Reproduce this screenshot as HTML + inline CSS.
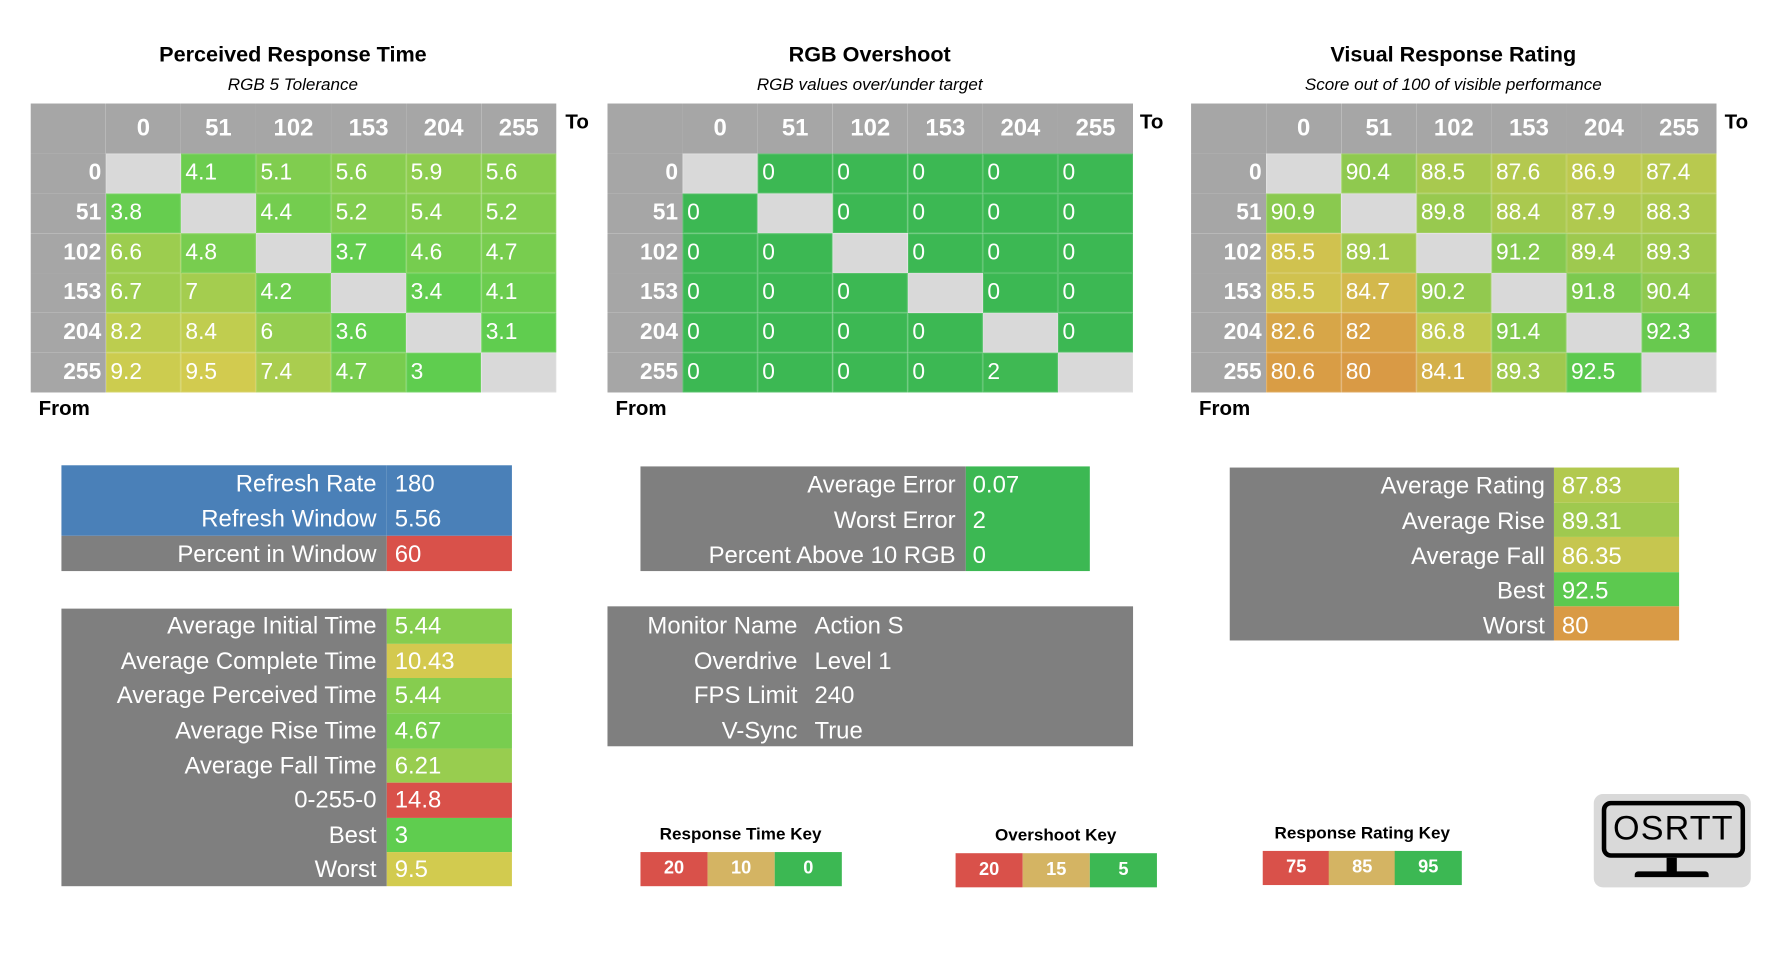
<!DOCTYPE html>
<html><head><meta charset="utf-8"><style>
html,body{margin:0;padding:0;background:#fff;width:1784px;height:962px;overflow:hidden}
#w{position:absolute;left:0;top:0;width:1560px;height:841px;transform:scale(1.1376);transform-origin:0 0;font-family:"Liberation Sans",sans-serif}
.a{position:absolute}
.tt{position:absolute;text-align:center;font-weight:bold;font-size:19px;color:#000}
.st{position:absolute;text-align:center;font-style:italic;font-size:15px;color:#000}
table{position:absolute;border-collapse:collapse;table-layout:fixed;border:0}
td{padding:0;height:35px;color:#fff;font-size:20px;white-space:nowrap;overflow:hidden;border:0}
.h td{height:44px;background:#a6a6a6;font-weight:bold;font-size:21px;text-align:center}
td.l{background:#a6a6a6;font-weight:bold;text-align:right;padding-right:4px;width:62px}
td.c{width:62px;padding-left:4px;box-shadow:inset 0 0 0 1px rgba(255,255,255,0.12)}
td.d{background:#d9d9d9}
.lab{position:absolute;font-weight:bold;font-size:18px;color:#000}
.box div{position:absolute;color:#fff;font-size:21px;line-height:31px;white-space:nowrap}
.key{position:absolute;font-weight:bold;font-size:15px;text-align:center;color:#000}
.kb{position:absolute;color:#fff;font-weight:bold;font-size:16px;text-align:center;line-height:30px;width:59px;height:30px}
</style></head><body><div id="w">

<div class="tt" style="left:27px;width:461px;top:38px">Perceived Response Time</div>
<div class="st" style="left:27px;width:461px;top:66px">RGB 5 Tolerance</div>
<div class="tt" style="left:534px;width:461px;top:38px">RGB Overshoot</div>
<div class="st" style="left:534px;width:461px;top:66px">RGB values over/under target</div>
<div class="tt" style="left:1047px;width:461px;top:38px">Visual Response Rating</div>
<div class="st" style="left:1047px;width:461px;top:66px">Score out of 100 of visible performance</div>

<table style="left:27px;top:91px;width:462px">
<tr class="h"><td style="width:66px"></td><td>0</td><td>51</td><td>102</td><td>153</td><td>204</td><td>255</td></tr>
<tr><td class="l">0</td><td class="c d"></td><td class="c" style="background:#6ccd4f">4.1</td><td class="c" style="background:#80cd4f">5.1</td><td class="c" style="background:#88cd4f">5.6</td><td class="c" style="background:#8ecd4f">5.9</td><td class="c" style="background:#88cd4f">5.6</td></tr>
<tr><td class="l">51</td><td class="c" style="background:#66cd4f">3.8</td><td class="c d"></td><td class="c" style="background:#74cd4f">4.4</td><td class="c" style="background:#82cd4f">5.2</td><td class="c" style="background:#86cd4f">5.4</td><td class="c" style="background:#82cd4f">5.2</td></tr>
<tr><td class="l">102</td><td class="c" style="background:#9ccd4f">6.6</td><td class="c" style="background:#78cd4f">4.8</td><td class="c d"></td><td class="c" style="background:#64cd4f">3.7</td><td class="c" style="background:#76cd4f">4.6</td><td class="c" style="background:#78cd4f">4.7</td></tr>
<tr><td class="l">153</td><td class="c" style="background:#9ecd4f">6.7</td><td class="c" style="background:#a4cd4f">7</td><td class="c" style="background:#70cd4f">4.2</td><td class="c d"></td><td class="c" style="background:#62cd4f">3.4</td><td class="c" style="background:#6ccd4f">4.1</td></tr>
<tr><td class="l">204</td><td class="c" style="background:#bccd4f">8.2</td><td class="c" style="background:#c0cd4f">8.4</td><td class="c" style="background:#94cd4f">6</td><td class="c" style="background:#63cd4f">3.6</td><td class="c d"></td><td class="c" style="background:#60cd4f">3.1</td></tr>
<tr><td class="l">255</td><td class="c" style="background:#cccc4f">9.2</td><td class="c" style="background:#d2cb4f">9.5</td><td class="c" style="background:#aacd4f">7.4</td><td class="c" style="background:#78cd4f">4.7</td><td class="c" style="background:#5fcd4f">3</td><td class="c d"></td></tr>
</table>
<div class="lab" style="left:497px;top:97px">To</div>
<div class="lab" style="left:34px;top:349px">From</div>

<table style="left:534px;top:91px;width:462px">
<tr class="h"><td style="width:66px"></td><td>0</td><td>51</td><td>102</td><td>153</td><td>204</td><td>255</td></tr>
<tr><td class="l">0</td><td class="c d"></td><td class="c" style="background:#3cb853">0</td><td class="c" style="background:#3cb853">0</td><td class="c" style="background:#3cb853">0</td><td class="c" style="background:#3cb853">0</td><td class="c" style="background:#3cb853">0</td></tr>
<tr><td class="l">51</td><td class="c" style="background:#3cb853">0</td><td class="c d"></td><td class="c" style="background:#3cb853">0</td><td class="c" style="background:#3cb853">0</td><td class="c" style="background:#3cb853">0</td><td class="c" style="background:#3cb853">0</td></tr>
<tr><td class="l">102</td><td class="c" style="background:#3cb853">0</td><td class="c" style="background:#3cb853">0</td><td class="c d"></td><td class="c" style="background:#3cb853">0</td><td class="c" style="background:#3cb853">0</td><td class="c" style="background:#3cb853">0</td></tr>
<tr><td class="l">153</td><td class="c" style="background:#3cb853">0</td><td class="c" style="background:#3cb853">0</td><td class="c" style="background:#3cb853">0</td><td class="c d"></td><td class="c" style="background:#3cb853">0</td><td class="c" style="background:#3cb853">0</td></tr>
<tr><td class="l">204</td><td class="c" style="background:#3cb853">0</td><td class="c" style="background:#3cb853">0</td><td class="c" style="background:#3cb853">0</td><td class="c" style="background:#3cb853">0</td><td class="c d"></td><td class="c" style="background:#3cb853">0</td></tr>
<tr><td class="l">255</td><td class="c" style="background:#3cb853">0</td><td class="c" style="background:#3cb853">0</td><td class="c" style="background:#3cb853">0</td><td class="c" style="background:#3cb853">0</td><td class="c" style="background:#3fb953">2</td><td class="c d"></td></tr>
</table>
<div class="lab" style="left:1002px;top:97px">To</div>
<div class="lab" style="left:541px;top:349px">From</div>

<table style="left:1047px;top:91px;width:462px">
<tr class="h"><td style="width:66px"></td><td>0</td><td>51</td><td>102</td><td>153</td><td>204</td><td>255</td></tr>
<tr><td class="l">0</td><td class="c d"></td><td class="c" style="background:#8fc94f">90.4</td><td class="c" style="background:#a8c94f">88.5</td><td class="c" style="background:#b4c94f">87.6</td><td class="c" style="background:#bec94f">86.9</td><td class="c" style="background:#b8c94f">87.4</td></tr>
<tr><td class="l">51</td><td class="c" style="background:#8ac94f">90.9</td><td class="c d"></td><td class="c" style="background:#98c94f">89.8</td><td class="c" style="background:#aac94f">88.4</td><td class="c" style="background:#b0c94f">87.9</td><td class="c" style="background:#acc94f">88.3</td></tr>
<tr><td class="l">102</td><td class="c" style="background:#d0c24f">85.5</td><td class="c" style="background:#a2c94f">89.1</td><td class="c d"></td><td class="c" style="background:#86c94f">91.2</td><td class="c" style="background:#9ec94f">89.4</td><td class="c" style="background:#a0c94f">89.3</td></tr>
<tr><td class="l">153</td><td class="c" style="background:#d0c24f">85.5</td><td class="c" style="background:#d3b84c">84.7</td><td class="c" style="background:#92c94f">90.2</td><td class="c d"></td><td class="c" style="background:#7cc94f">91.8</td><td class="c" style="background:#8fc94f">90.4</td></tr>
<tr><td class="l">204</td><td class="c" style="background:#d7a648">82.6</td><td class="c" style="background:#d8a247">82</td><td class="c" style="background:#c0c94f">86.8</td><td class="c" style="background:#82c94f">91.4</td><td class="c d"></td><td class="c" style="background:#68c94f">92.3</td></tr>
<tr><td class="l">255</td><td class="c" style="background:#d99d45">80.6</td><td class="c" style="background:#d99a45">80</td><td class="c" style="background:#d4b04a">84.1</td><td class="c" style="background:#a0c94f">89.3</td><td class="c" style="background:#5cc94f">92.5</td><td class="c d"></td></tr>
</table>
<div class="lab" style="left:1516px;top:97px">To</div>
<div class="lab" style="left:1054px;top:349px">From</div>

<!-- box1 -->
<div class="box">
<div style="left:54px;top:409px;width:286px;height:62px;background:#4a80b8"></div>
<div style="left:54px;top:471px;width:286px;height:31px;background:#7f7f7f"></div>
<div style="left:340px;top:409px;width:110px;height:62px;background:#4a80b8"></div>
<div style="left:340px;top:471px;width:110px;height:31px;background:#d9514a"></div>
<div style="left:54px;top:410px;width:277px;text-align:right">Refresh Rate</div>
<div style="left:54px;top:441px;width:277px;text-align:right">Refresh Window</div>
<div style="left:54px;top:472px;width:277px;text-align:right">Percent in Window</div>
<div style="left:347px;top:410px">180</div>
<div style="left:347px;top:441px">5.56</div>
<div style="left:347px;top:472px">60</div>
</div>

<!-- box2 -->
<div class="box">
<div style="left:54px;top:535px;width:286px;height:244px;background:#7f7f7f"></div>
<div style="left:340px;top:535px;width:110px;height:31px;background:#86cd4f"></div>
<div style="left:340px;top:566px;width:110px;height:30px;background:#d4c94f"></div>
<div style="left:340px;top:596px;width:110px;height:31px;background:#86cd4f"></div>
<div style="left:340px;top:627px;width:110px;height:31px;background:#78cd4f"></div>
<div style="left:340px;top:658px;width:110px;height:30px;background:#98cd4f"></div>
<div style="left:340px;top:688px;width:110px;height:31px;background:#d9514a"></div>
<div style="left:340px;top:719px;width:110px;height:30px;background:#5fcd4f"></div>
<div style="left:340px;top:749px;width:110px;height:30px;background:#d2cb4f"></div>
<div style="left:54px;top:535px;width:277px;text-align:right">Average Initial Time</div>
<div style="left:54px;top:566px;width:277px;text-align:right">Average Complete Time</div>
<div style="left:54px;top:596px;width:277px;text-align:right">Average Perceived Time</div>
<div style="left:54px;top:627px;width:277px;text-align:right">Average Rise Time</div>
<div style="left:54px;top:658px;width:277px;text-align:right">Average Fall Time</div>
<div style="left:54px;top:688px;width:277px;text-align:right">0-255-0</div>
<div style="left:54px;top:719px;width:277px;text-align:right">Best</div>
<div style="left:54px;top:749px;width:277px;text-align:right">Worst</div>
<div style="left:347px;top:535px">5.44</div>
<div style="left:347px;top:566px">10.43</div>
<div style="left:347px;top:596px">5.44</div>
<div style="left:347px;top:627px">4.67</div>
<div style="left:347px;top:658px">6.21</div>
<div style="left:347px;top:688px">14.8</div>
<div style="left:347px;top:719px">3</div>
<div style="left:347px;top:749px">9.5</div>
</div>

<!-- box3 -->
<div class="box">
<div style="left:563px;top:410px;width:286px;height:92px;background:#7f7f7f"></div>
<div style="left:849px;top:410px;width:109px;height:92px;background:#3cb853"></div>
<div style="left:563px;top:411px;width:277px;text-align:right">Average Error</div>
<div style="left:563px;top:442px;width:277px;text-align:right">Worst Error</div>
<div style="left:563px;top:473px;width:277px;text-align:right">Percent Above 10 RGB</div>
<div style="left:855px;top:411px">0.07</div>
<div style="left:855px;top:442px">2</div>
<div style="left:855px;top:473px">0</div>
</div>

<!-- box4 -->
<div class="box">
<div style="left:534px;top:533px;width:462px;height:123px;background:#7f7f7f"></div>
<div style="left:534px;top:535px;width:167px;text-align:right">Monitor Name</div>
<div style="left:534px;top:566px;width:167px;text-align:right">Overdrive</div>
<div style="left:534px;top:596px;width:167px;text-align:right">FPS Limit</div>
<div style="left:534px;top:627px;width:167px;text-align:right">V-Sync</div>
<div style="left:716px;top:535px">Action S</div>
<div style="left:716px;top:566px">Level 1</div>
<div style="left:716px;top:596px">240</div>
<div style="left:716px;top:627px">True</div>
</div>

<!-- box5 -->
<div class="box">
<div style="left:1081px;top:411px;width:285px;height:152px;background:#7f7f7f"></div>
<div style="left:1366px;top:411px;width:110px;height:31px;background:#b2c94f"></div>
<div style="left:1366px;top:442px;width:110px;height:30px;background:#9fc94f"></div>
<div style="left:1366px;top:472px;width:110px;height:31px;background:#c6c64f"></div>
<div style="left:1366px;top:503px;width:110px;height:30px;background:#5cc94f"></div>
<div style="left:1366px;top:533px;width:110px;height:30px;background:#d99a45"></div>
<div style="left:1081px;top:412px;width:277px;text-align:right">Average Rating</div>
<div style="left:1081px;top:443px;width:277px;text-align:right">Average Rise</div>
<div style="left:1081px;top:474px;width:277px;text-align:right">Average Fall</div>
<div style="left:1081px;top:504px;width:277px;text-align:right">Best</div>
<div style="left:1081px;top:535px;width:277px;text-align:right">Worst</div>
<div style="left:1373px;top:412px">87.83</div>
<div style="left:1373px;top:443px">89.31</div>
<div style="left:1373px;top:474px">86.35</div>
<div style="left:1373px;top:504px">92.5</div>
<div style="left:1373px;top:535px">80</div>
</div>

<!-- keys -->
<div class="key" style="left:563px;width:176px;top:725px">Response Time Key</div>
<div class="kb" style="left:563px;top:749px;background:#d9514a">20</div>
<div class="kb" style="left:622px;top:749px;background:#d4b463">10</div>
<div class="kb" style="left:681px;top:749px;background:#3cb853">0</div>

<div class="key" style="left:840px;width:176px;top:726px">Overshoot Key</div>
<div class="kb" style="left:840px;top:750px;background:#d9514a">20</div>
<div class="kb" style="left:899px;top:750px;background:#d4b463">15</div>
<div class="kb" style="left:958px;top:750px;background:#3cb853">5</div>

<div class="key" style="left:1110px;width:175px;top:724px">Response Rating Key</div>
<div class="kb" style="left:1110px;top:748px;background:#d9514a">75</div>
<div class="kb" style="left:1168px;top:748px;background:#d4b463">85</div>
<div class="kb" style="left:1226px;top:748px;background:#3cb853">95</div>

<!-- logo -->
<div class="a" style="left:1401px;top:698px;width:138px;height:82px;background:#d9d9d9;border-radius:8px"></div>
<div class="a" style="left:1408px;top:704px;width:118px;height:42px;border:4px solid #000;border-radius:8px;font-size:30px;line-height:42px;text-align:center;letter-spacing:1px;color:#000">OSRTT</div>
<div class="a" style="left:1465px;top:754px;width:9px;height:14px;background:#000"></div>
<div class="a" style="left:1437px;top:766px;width:65px;height:5px;background:#000;border-radius:3px 3px 0 0"></div>
</div></body></html>
